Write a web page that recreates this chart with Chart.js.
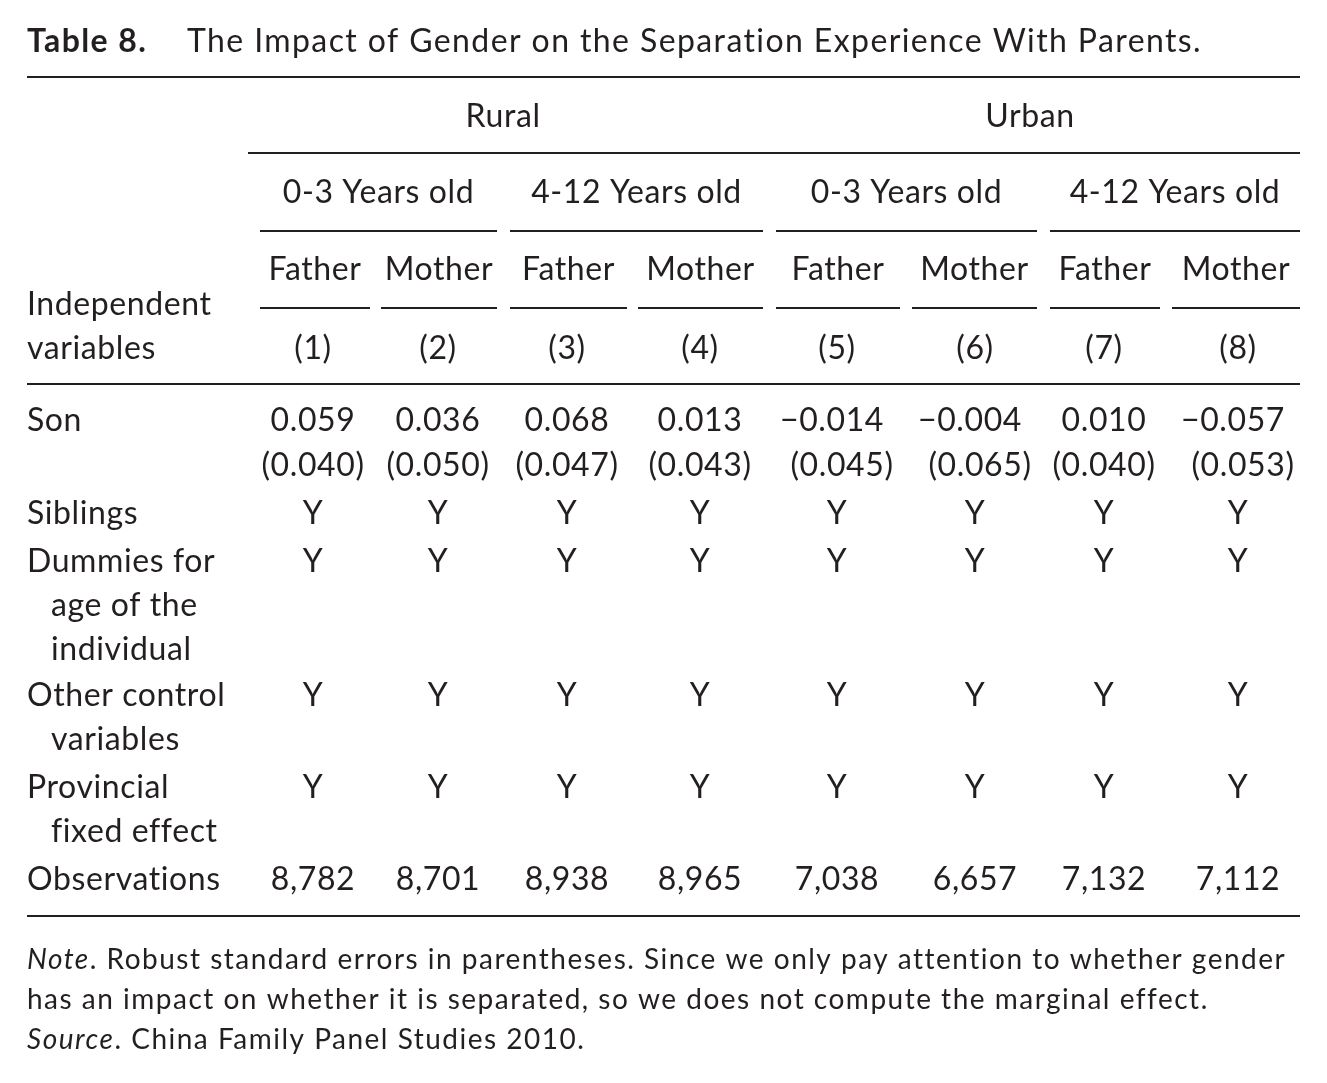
<!DOCTYPE html>
<html>
<head>
<meta charset="utf-8">
<script src="https://cdn.jsdelivr.net/npm/chart.js@4"></script>
<style>
  html, body { margin: 0; background: #fff; }
  canvas { display: block; }
</style>
</head>
<body>
<canvas id="tbl" width="1327" height="1083"></canvas>
<script>
// table content
const groups = ['Rural', 'Urban'];
const ages = ['0-3 Years old', '4-12 Years old', '0-3 Years old', '4-12 Years old'];
const parents = ['Father', 'Mother', 'Father', 'Mother', 'Father', 'Mother', 'Father', 'Mother'];
const colNums = ['(1)', '(2)', '(3)', '(4)', '(5)', '(6)', '(7)', '(8)'];
const sonCoef = ['0.059', '0.036', '0.068', '0.013', '\u22120.014', '\u22120.004', '0.010', '\u22120.057'];
const sonSE = ['(0.040)', '(0.050)', '(0.047)', '(0.043)', '(0.045)', '(0.065)', '(0.040)', '(0.053)'];
const controlRows = [
  ['Siblings'],
  ['Dummies for', 'age of the', 'individual'],
  ['Other control', 'variables'],
  ['Provincial', 'fixed effect']
];
const observations = ['8,782', '8,701', '8,938', '8,965', '7,038', '6,657', '7,132', '7,112'];

// layout (pixel positions on the page)
const colX = [313, 438, 567, 700, 832, 970, 1104, 1233];
const seX = [313, 438, 567, 700, 842, 980, 1104, 1243];
const groupX = [503, 1030];
const ageSpan = [[260, 497], [510, 763], [776, 1037], [1050, 1300]];
const parentSpan = [[260, 370], [381, 497], [510, 627], [638, 763], [776, 900], [912, 1037], [1050, 1160], [1172, 1300]];
const controlY = [514, 562, 696, 788];
const lineGap = 44;

const FONT = '"Lato", "Open Sans", sans-serif';

const tablePlugin = {
  id: 'tablePlugin',
  afterDraw(chart) {
    const ctx = chart.ctx;
    const sx = chart.scales.x, sy = chart.scales.y;
    const X = (v) => sx.getPixelForValue(v);
    const Y = (v) => sy.getPixelForValue(v);
    ctx.save();
    ctx.fillStyle = '#231f20';
    ctx.strokeStyle = '#231f20';
    ctx.textBaseline = 'middle';
    ctx.letterSpacing = '0.6px';

    const text = (s, x, y, align = 'center', size = 32, style = '') => {
      ctx.font = `${style} ${size}px ${FONT}`;
      ctx.textAlign = align;
      ctx.fillText(s, X(x), Y(y));
    };
    const hline = (x1, x2, y) => {
      ctx.lineWidth = 2;
      ctx.beginPath();
      ctx.moveTo(X(x1), Y(y));
      ctx.lineTo(X(x2), Y(y));
      ctx.stroke();
    };

    // title
    ctx.letterSpacing = '1.4px';
    ctx.font = `bold 32px ${FONT}`;
    ctx.textAlign = 'left';
    ctx.fillText('Table 8.', X(27), Y(42));
    ctx.font = `32px ${FONT}`;
    ctx.fillText('The Impact of Gender on the Separation Experience With Parents.', X(187), Y(42));
    ctx.letterSpacing = '0.6px';

    hline(27, 1300, 77);
    groups.forEach((g, i) => text(g, groupX[i], 117));
    hline(248, 1300, 153);
    ages.forEach((a, i) => {
      text(a, (ageSpan[i][0] + ageSpan[i][1]) / 2, 193);
      hline(ageSpan[i][0], ageSpan[i][1], 231);
    });
    parents.forEach((p, i) => {
      text(p, (parentSpan[i][0] + parentSpan[i][1]) / 2, 270);
      hline(parentSpan[i][0], parentSpan[i][1], 308);
    });
    text('Independent', 27, 305, 'left');
    text('variables', 27, 349, 'left');
    colNums.forEach((c, i) => text(c, [313, 438, 567, 700, 837, 975, 1104, 1238][i], 349));
    hline(27, 1300, 384);

    text('Son', 27, 421, 'left');
    sonCoef.forEach((c, i) => text(c, colX[i], 421));
    sonSE.forEach((c, i) => text(c, seX[i], 466));

    const yX = [313, 438, 567, 700, 837, 975, 1104, 1238];
    controlRows.forEach((lines, r) => {
      lines.forEach((l, k) => text(l, k === 0 ? 27 : 51, controlY[r] + k * lineGap, 'left'));
      yX.forEach((x) => text('Y', x, controlY[r]));
    });

    text('Observations', 27, 880, 'left');
    observations.forEach((o, i) => text(o, yX[i], 880));
    hline(27, 1300, 916);

    // notes
    ctx.letterSpacing = '1.5px';
    const mixed = (parts, y) => {
      let x = X(27);
      ctx.textAlign = 'left';
      parts.forEach(([s, style]) => {
        ctx.font = `${style} 28px ${FONT}`;
        ctx.fillText(s, x, Y(y));
        x += ctx.measureText(s).width;
      });
    };
    mixed([['Note', 'italic'], ['. Robust standard errors in parentheses. Since we only pay attention to whether gender', '']], 960);
    mixed([['has an impact on whether it is separated, so we does not compute the marginal effect.', '']], 1000);
    mixed([['Source', 'italic'], ['. China Family Panel Studies 2010.', '']], 1040);
    ctx.restore();
  }
};

new Chart(document.getElementById('tbl'), {
  type: 'scatter',
  data: { datasets: [{ data: [] }] },
  options: {
    responsive: false,
    animation: false,
    devicePixelRatio: 1,
    layout: { padding: 0 },
    plugins: { legend: { display: false }, tooltip: { enabled: false } },
    scales: {
      x: { type: 'linear', min: 0, max: 1327, display: false },
      y: { type: 'linear', min: 0, max: 1083, reverse: true, display: false }
    }
  },
  plugins: [tablePlugin]
});
</script>
</body>
</html>
